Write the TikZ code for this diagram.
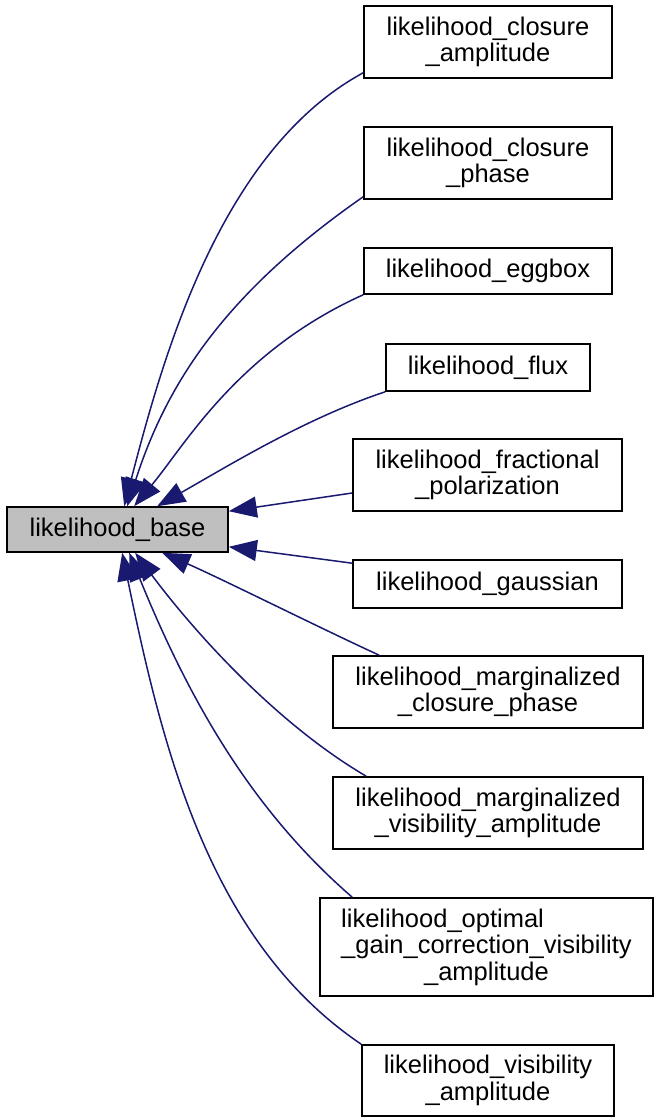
\documentclass[tikz,border=0pt]{standalone}
\usepackage{fontspec}
\setmainfont{Liberation Sans}
\usepackage{calc}
\usetikzlibrary{arrows.meta}
\definecolor{edgeblue}{HTML}{191970}
\definecolor{basegray}{HTML}{BFBFBF}
\begin{document}
\begin{tikzpicture}[x=1pt,y=-1pt,
  cls/.style={draw=black, line width=1.6pt, fill=white, rectangle, inner sep=0pt,
    align=center, font=\fontsize{25.5}{26.5}\selectfont},
  basecls/.style={cls, fill=basegray},
  edge/.style={draw=edgeblue, line width=1.5pt, -{Triangle[length=28pt,width=21pt]}}]
\useasboundingbox (0,0) rectangle (654,1118);

\node[basecls, minimum width=221pt, minimum height=45pt] (base) at (117.5,529.5) {likelihood\_base};

\node[cls, minimum width=248pt, minimum height=72pt] (c1) at (488,42) {likelihood\_closure\\\_amplitude};
\node[cls, minimum width=248pt, minimum height=72pt] (c2) at (488,163) {likelihood\_closure\\\_phase};
\node[cls, minimum width=248pt, minimum height=46pt] (c3) at (488,271) {likelihood\_eggbox};
\node[cls, minimum width=204pt, minimum height=47pt] (c4) at (488,367.5) {likelihood\_flux};
\node[cls, minimum width=269pt, minimum height=72pt] (c5) at (487.5,475) {likelihood\_fractional\\\_polarization};
\node[cls, minimum width=269pt, minimum height=48pt] (c6) at (487.5,584) {likelihood\_gaussian};
\node[cls, minimum width=310pt, minimum height=72pt] (c7) at (488,692) {likelihood\_marginalized\\\_closure\_phase};
\node[cls, minimum width=310pt, minimum height=72pt] (c8) at (488,813) {likelihood\_marginalized\\\_visibility\_amplitude};
\node[cls, minimum width=333pt, minimum height=98pt] (c9) at (486.5,947) {\makebox[\widthof{\_gain\_correction\_visibility}][l]{likelihood\_optimal}\\\_gain\_correction\_visibility\\\_amplitude};
\node[cls, minimum width=252pt, minimum height=71pt] (c10) at (488,1080.5) {likelihood\_visibility\\\_amplitude};

\draw[edge] ([yshift=6pt]c1.south west) .. controls (219,151) and (162,361) .. ([xshift=118pt]base.north west);
\draw[edge] ([yshift=3pt]c2.south west) .. controls (225,293) and (167,383) .. ([xshift=121pt]base.north west);
\draw[edge] (c3.south west) .. controls (238,351) and (185,445) .. ([xshift=128pt]base.north west);
\draw[edge] (c4.south west) .. controls (306,418) and (228,466) .. ([xshift=151pt]base.north west);
\draw[edge] ([yshift=-18pt]c5.west) -- ([yshift=-5pt]base.north east);
\draw[edge] ([yshift=-4pt]c6.north west) -- ([yshift=6pt]base.south east);
\draw[edge] ([xshift=47pt]c7.north west) .. controls (320,628) and (220,578) .. ([xshift=156pt]base.south west);
\draw[edge] ([xshift=34pt]c8.north west) .. controls (272,721) and (189,625) .. ([xshift=129pt]base.south west);
\draw[edge] ([xshift=33pt]c9.north west) .. controls (247,806) and (186,692) .. ([xshift=123pt]base.south west);
\draw[edge] (c10.north west) .. controls (210,942) and (163,751) .. ([xshift=116pt]base.south west);
\end{tikzpicture}
\end{document}
